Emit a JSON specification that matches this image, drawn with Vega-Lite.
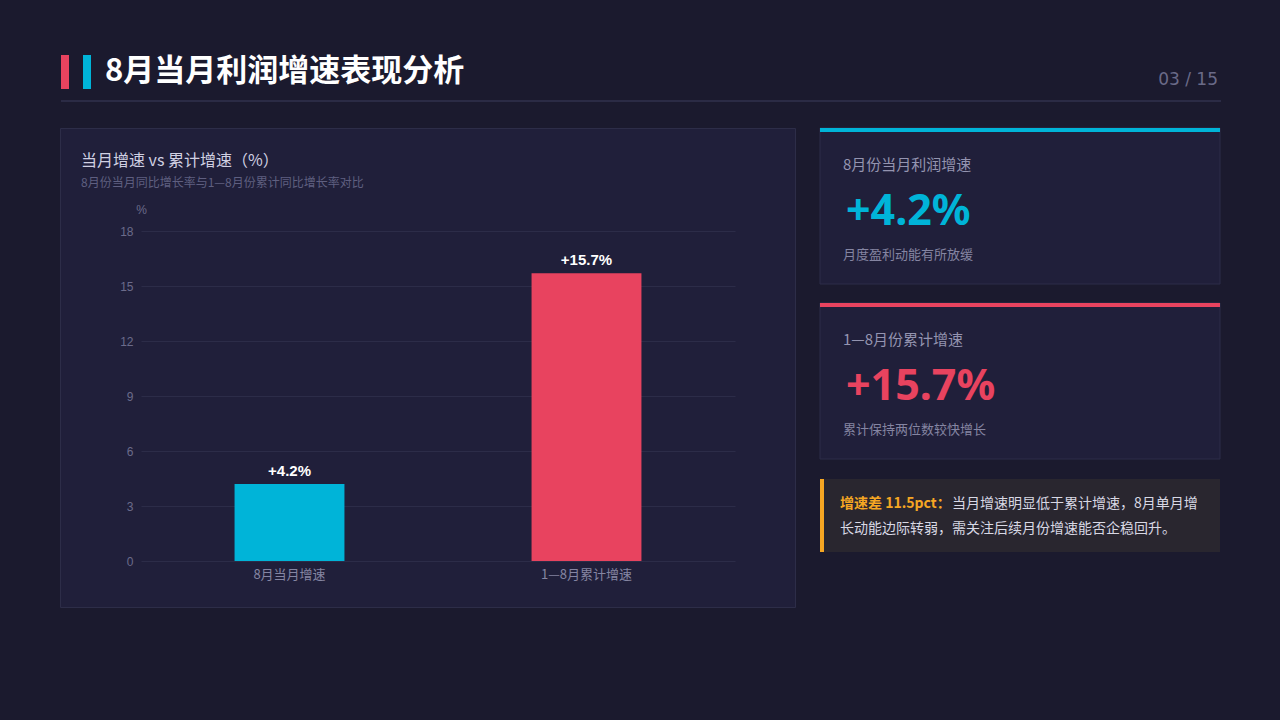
{
  "$schema": "https://vega.github.io/schema/vega-lite/v6.json",
  "background": "#1b1a2e",
  "padding": {"left": 59, "right": 61, "top": 0, "bottom": 113},
  "config": {"view": {"stroke": null}, "font": "Noto Sans CJK SC"},
  "datasets": {
    "growth": [
      {"指标": "8月当月增速", "增速": 4.2, "标签": "+4.2%", "卡片标题": "8月份当月利润增速", "说明": "月度盈利动能有所放缓"},
      {"指标": "1—8月累计增速", "增速": 15.7, "标签": "+15.7%", "卡片标题": "1—8月份累计增速", "说明": "累计保持两位数较快增长"}
    ]
  },
  "spacing": 25,
  "vconcat": [
    {
      "width": 1160,
      "height": 102,
      "data": {"values": [{}]},
      "layer": [
        {"mark": {"type": "rect", "color": "#e8435f"}, "encoding": {"x": {"value": 1}, "x2": {"value": 9}, "y": {"value": 55}, "y2": {"value": 89}}},
        {"mark": {"type": "rect", "color": "#00b4d8"}, "encoding": {"x": {"value": 23}, "x2": {"value": 31}, "y": {"value": 55}, "y2": {"value": 89}}},
        {"mark": {"type": "text", "text": "8月当月利润增速表现分析", "align": "left", "baseline": "middle", "fontSize": 31, "fontWeight": "bold", "color": "#ffffff"}, "encoding": {"x": {"value": 45}, "y": {"value": 72}}},
        {"mark": {"type": "text", "text": "03 / 15", "align": "right", "baseline": "middle", "fontSize": 17, "color": "#6a6a88", "font": "DejaVu Sans"}, "encoding": {"x": {"value": 1158}, "y": {"value": 80}}},
        {"mark": {"type": "rule", "color": "#2b2b45", "strokeWidth": 2}, "encoding": {"x": {"value": 1}, "x2": {"value": 1161}, "y": {"value": 101}}}
      ]
    },
    {
      "spacing": 22,
      "hconcat": [
        {
          "width": 735,
          "height": 479,
          "view": {"fill": "#201f3a", "stroke": "#2d2d48", "strokeWidth": 1},
          "title": {
            "text": "当月增速 vs 累计增速（%）",
            "subtitle": "8月份当月同比增长率与1—8月份累计同比增长率对比",
            "anchor": "start",
            "frame": "group",
            "orient": "top",
            "offset": -61,
            "dx": 21,
            "fontSize": 16,
            "fontWeight": "normal",
            "color": "#d0d0e2",
            "font": "Noto Sans CJK SC",
            "subtitleFont": "Noto Sans CJK SC",
            "subtitleFontSize": 12,
            "subtitleColor": "#5f5f80",
            "subtitlePadding": 9
          },
          "data": {"name": "growth"},
          "encoding": {
            "x": {
              "field": "指标", "type": "nominal", "sort": ["8月当月增速", "1—8月累计增速"],
              "scale": {"range": [81, 675], "paddingInner": 0.63, "paddingOuter": 0.315},
              "axis": {"title": null, "labelAngle": 0, "domain": false, "ticks": false, "grid": false, "offset": -46, "labelPadding": 7, "labelFontSize": 13, "labelColor": "#8585a2", "labelFont": "Noto Sans CJK SC"}
            },
            "y": {
              "field": "增速", "type": "quantitative",
              "scale": {"domain": [0, 18], "range": [433, 103], "nice": false, "zero": true},
              "axis": {
                "title": "%", "titleAngle": 0, "titleX": 0, "titleY": 81, "titleAlign": "center", "titleBaseline": "middle",
                "titleFontSize": 12, "titleColor": "#6b6b8a", "titleFontWeight": "normal", "titleFont": "Liberation Sans",
                "values": [0, 3, 6, 9, 12, 15, 18], "offset": -81, "domain": false, "ticks": false, "labelPadding": 8,
                "labelFontSize": 12, "labelColor": "#6b6b8a", "labelFont": "Liberation Sans",
                "grid": true, "gridColor": "#2c2c48", "gridWidth": 1
              }
            }
          },
          "layer": [
            {
              "mark": {"type": "bar"},
              "encoding": {
                "color": {"field": "指标", "type": "nominal", "scale": {"domain": ["8月当月增速", "1—8月累计增速"], "range": ["#00b4d8", "#e8435f"]}, "legend": null}
              }
            },
            {
              "mark": {"type": "text", "baseline": "alphabetic", "dy": -8, "fontSize": 15, "fontWeight": "bold", "color": "#ffffff", "font": "Liberation Sans"},
              "encoding": {"text": {"field": "标签"}}
            }
          ]
        },
        {
          "spacing": 19,
          "vconcat": [
            {
              "width": 400,
              "height": 331,
              "data": {"name": "growth"},
              "encoding": {
                "y": {"field": "指标", "type": "nominal", "sort": ["8月当月增速", "1—8月累计增速"], "scale": {"paddingInner": 0.10857, "paddingOuter": 0}, "axis": null}
              },
              "layer": [
                {"mark": {"type": "rect", "fill": "#201f3a", "stroke": "#2d2d48", "strokeWidth": 1}},
                {
                  "mark": {"type": "rule", "strokeWidth": 4, "yOffset": 2},
                  "encoding": {
                    "y": {"field": "指标", "type": "nominal", "sort": ["8月当月增速", "1—8月累计增速"], "bandPosition": 0},
                    "color": {"field": "指标", "type": "nominal", "scale": {"domain": ["8月当月增速", "1—8月累计增速"], "range": ["#00b4d8", "#e8435f"]}, "legend": null}
                  }
                },
                {
                  "mark": {"type": "text", "align": "left", "baseline": "middle", "fontSize": 15, "color": "#9494b0"},
                  "encoding": {
                    "y": {"field": "指标", "type": "nominal", "sort": ["8月当月增速", "1—8月累计增速"], "bandPosition": 0.237},
                    "x": {"value": 23},
                    "text": {"field": "卡片标题"}
                  }
                },
                {
                  "mark": {"type": "text", "align": "left", "baseline": "middle", "fontSize": 43, "fontWeight": "bold", "font": "Noto Sans"},
                  "encoding": {
                    "y": {"field": "指标", "type": "nominal", "sort": ["8月当月增速", "1—8月累计增速"], "bandPosition": 0.54},
                    "x": {"value": 26},
                    "text": {"field": "标签"},
                    "color": {"field": "指标", "type": "nominal", "scale": {"domain": ["8月当月增速", "1—8月累计增速"], "range": ["#00b4d8", "#e8435f"]}, "legend": null}
                  }
                },
                {
                  "mark": {"type": "text", "align": "left", "baseline": "middle", "fontSize": 13, "color": "#8585a2"},
                  "encoding": {
                    "y": {"field": "指标", "type": "nominal", "sort": ["8月当月增速", "1—8月累计增速"], "bandPosition": 0.814},
                    "x": {"value": 23},
                    "text": {"field": "说明"}
                  }
                }
              ]
            },
            {
              "spacing": 0,
              "hconcat": [
                {
                  "width": 4,
                  "height": 73,
                  "view": {"fill": "#f5a623", "stroke": null},
                  "data": {"values": []},
                  "mark": "rect"
                },
                {
                  "width": 396,
                  "height": 73,
                  "view": {"fill": "#29262f", "stroke": null},
                  "data": {"values": [{}]},
                  "layer": [
                    {"mark": {"type": "text", "text": "增速差 11.5pct：", "align": "left", "baseline": "middle", "fontSize": 14, "fontWeight": "bold", "color": "#f5a623"}, "encoding": {"x": {"value": 16}, "y": {"value": 25}}},
                    {"mark": {"type": "text", "text": "当月增速明显低于累计增速，8月单月增", "align": "left", "baseline": "middle", "fontSize": 14, "color": "#d8d8e4"}, "encoding": {"x": {"value": 128}, "y": {"value": 25}}},
                    {"mark": {"type": "text", "text": "长动能边际转弱，需关注后续月份增速能否企稳回升。", "align": "left", "baseline": "middle", "fontSize": 14, "color": "#d8d8e4"}, "encoding": {"x": {"value": 16}, "y": {"value": 50}}}
                  ]
                }
              ]
            }
          ]
        }
      ]
    }
  ]
}
